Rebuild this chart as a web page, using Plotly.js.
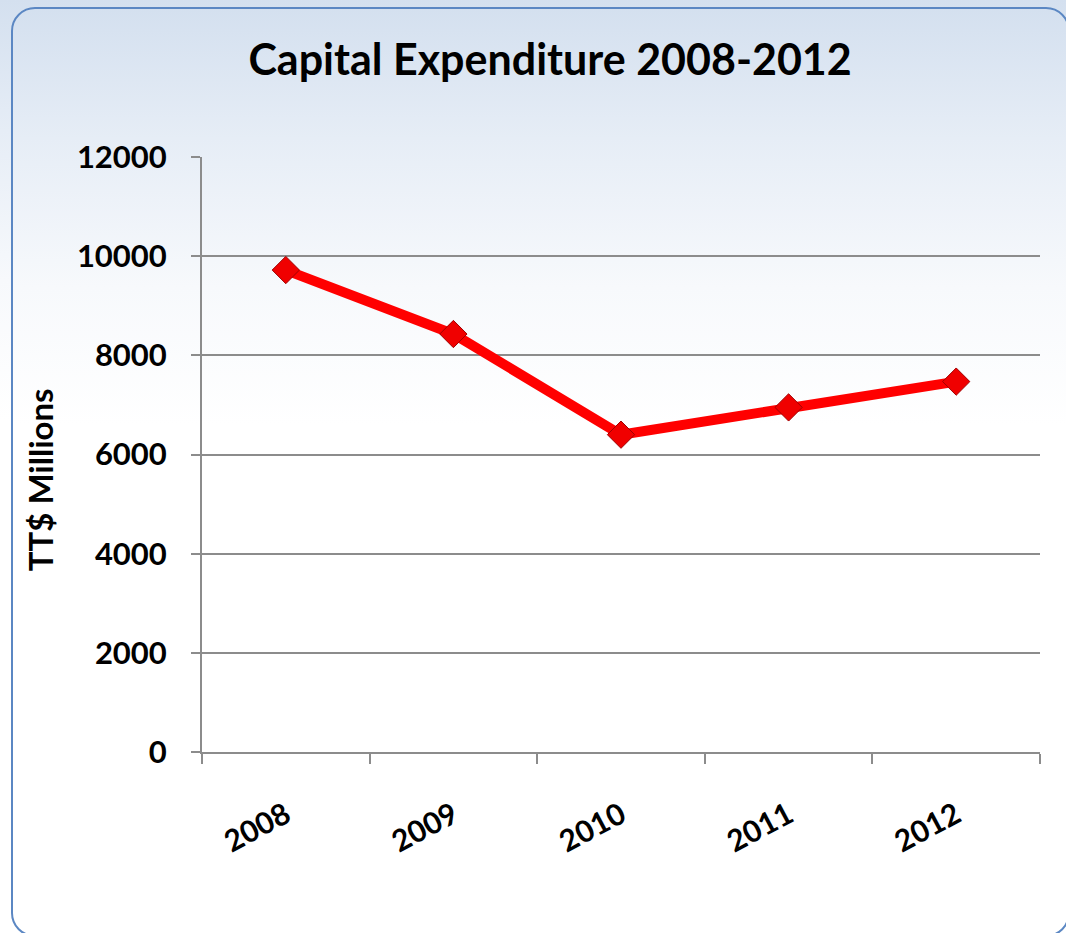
<!DOCTYPE html>
<html>
<head>
<meta charset="utf-8">
<script src="https://cdn.plot.ly/plotly-3.0.1.min.js"></script>
<style>
  html, body { margin:0; padding:0; width:1066px; height:933px; overflow:hidden;
    background: linear-gradient(to bottom, #d4e0ef 0%, #e6edf6 14%, #f7f9fc 30%, #ffffff 45%, #ffffff 100%); }
  #frame { position:absolute; left:11px; top:7px; width:1055px; height:926px;
    border:2px solid #5b87c3; border-radius:24px;
    background: linear-gradient(to bottom, #d4e0ef 0%, #e6edf6 14%, #f7f9fc 30%, #ffffff 45%, #ffffff 100%); }
  #chart { position:absolute; left:0; top:0; width:1066px; height:933px; }
</style>
</head>
<body>
<div id="frame"></div>
<div id="chart"></div>
<script>
const years = ["2008", "2009", "2010", "2011", "2012"];
const capex = [9720, 8430, 6400, 6950, 7470];
const yTicks = [0, 2000, 4000, 6000, 8000, 10000, 12000];
const chartTitle = "Capital Expenditure 2008-2012";
const yTitle = "TT$ Millions";

const FONT = "Lato, 'Open Sans', sans-serif";

const trace = {
  x: years, y: capex, type: "scatter", mode: "lines+markers",
  line: { color: "#ff0000", width: 10 },
  marker: { symbol: "diamond", size: 21, color: "#f00000", line: { color: "#a00000", width: 1 } },
  hoverinfo: "x+y"
};

const layout = {
  width: 1066, height: 933,
  paper_bgcolor: "rgba(0,0,0,0)", plot_bgcolor: "rgba(0,0,0,0)",
  margin: { l: 202, r: 26, t: 157, b: 181 },
  showlegend: false,
  title: { text: "<b>" + chartTitle + "</b>", font: { family: FONT, size: 43, color: "#000" },
           x: 0.516, xref: "container", xanchor: "center", y: 0.936, yref: "container", yanchor: "middle" },
  xaxis: {
    type: "category", range: [-0.5, 4.5], tickson: "boundaries",
    showgrid: false, showline: true, linecolor: "#8c8c8c", linewidth: 2,
    ticks: "outside", ticklen: 10, tickcolor: "#8c8c8c", tickwidth: 2,
    tickangle: -28, ticklabelstandoff: 32,
    tickfont: { family: FONT, size: 30, color: "#000", weight: "bold" },
    fixedrange: true
  },
  yaxis: {
    range: [0, 12000], tickvals: yTicks, ticktext: yTicks.map(String),
    showgrid: true, gridcolor: "#8c8c8c", gridwidth: 1.5,
    showline: true, linecolor: "#8c8c8c", linewidth: 2, zeroline: false,
    ticks: "outside", ticklen: 9, tickcolor: "#8c8c8c", tickwidth: 2,
    ticklabelstandoff: 18,
    tickfont: { family: FONT, size: 31, color: "#000", weight: "bold" },
    fixedrange: true
  },
  annotations: [{
    text: "<b>" + yTitle + "</b>", textangle: -90, showarrow: false,
    xref: "paper", yref: "paper", x: -0.193, y: 0.457, xanchor: "center", yanchor: "middle",
    font: { family: FONT, size: 33, color: "#000" }
  }]
};

Plotly.newPlot("chart", [trace], layout, { displayModeBar: false });
</script>
</body>
</html>
